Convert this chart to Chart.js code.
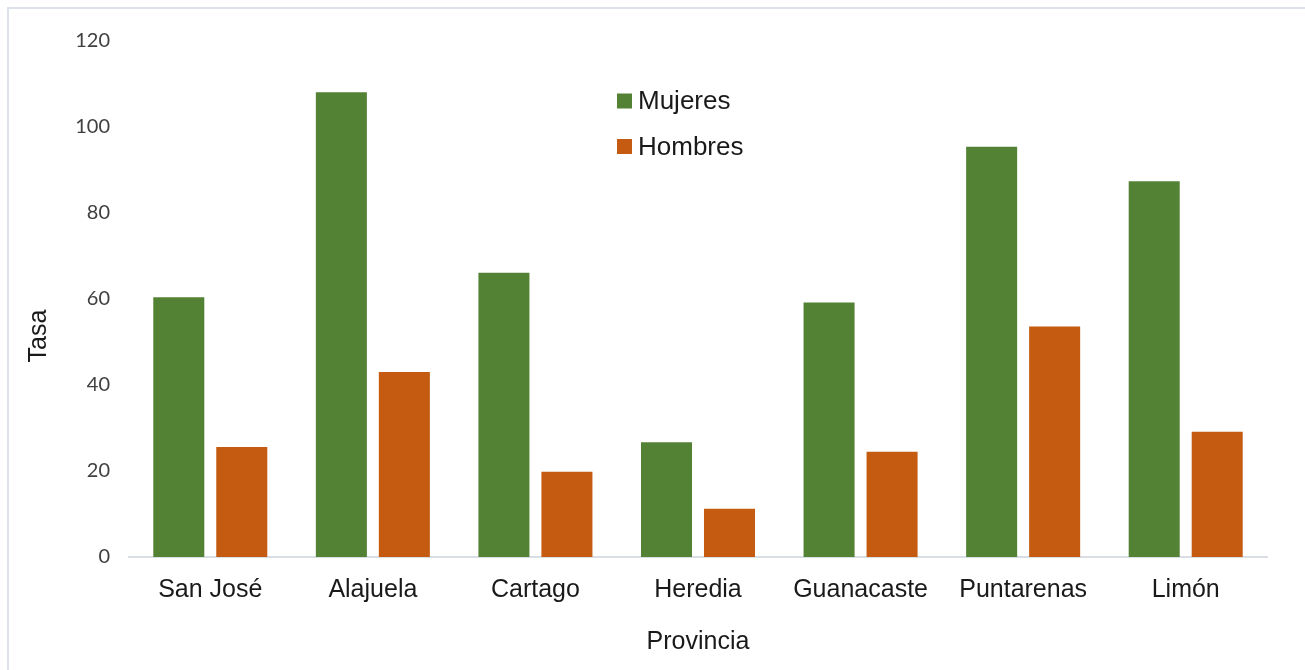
<!DOCTYPE html>
<html lang="es">
<head>
<meta charset="utf-8">
<title>Tasa por provincia</title>
<script src="https://cdn.jsdelivr.net/npm/chart.js@4.4.1/dist/chart.umd.min.js"></script>
<style>
  html, body { margin: 0; padding: 0; background: #ffffff; }
  #wrap { position: relative; width: 1305px; height: 670px; }
  #frame {
    position: absolute; left: 7px; top: 7px; right: 0; bottom: 0;
    border-top: 2px solid #dde2ea; border-left: 2px solid #dde2ea;
    pointer-events: none;
  }
  canvas { position: absolute; left: 0; top: 0; }
</style>
</head>
<body>
<div id="wrap">
  <canvas id="tasaChart" width="1305" height="670"></canvas>
  <div id="frame"></div>
</div>
<script>
const provincias = ["San José", "Alajuela", "Cartago", "Heredia", "Guanacaste", "Puntarenas", "Limón"];
const mujeres = [60.4, 108.1, 66.1, 26.7, 59.2, 95.4, 87.4];
const hombres = [25.6, 43.0, 19.8, 11.2, 24.5, 53.6, 29.1];
const yTicks = [0, 20, 40, 60, 80, 100, 120];

const GREEN = "#548235";
const ORANGE = "#c55a11";
const ARIAL = "'Liberation Sans', Arial, sans-serif";

// legend drawn as a vertical list inside the plot area
const sideLegend = {
  id: "sideLegend",
  afterDraw(chart) {
    const ctx = chart.ctx;
    ctx.save();
    ctx.font = `26px ${ARIAL}`;
    ctx.textBaseline = "middle";
    chart.data.datasets.forEach((ds, i) => {
      const y = 101 + i * 45.5;
      ctx.fillStyle = ds.backgroundColor;
      ctx.fillRect(617, y - 7.5, 15, 15);
      ctx.fillStyle = "#1a1a1a";
      ctx.fillText(ds.label, 638, y + 1);
    });
    ctx.restore();
  },
};

// y-axis title ("Tasa") rotated, left of the tick labels
const yTitle = {
  id: "yTitle",
  afterDraw(chart) {
    const ctx = chart.ctx;
    ctx.save();
    ctx.translate(39, 336);
    ctx.rotate(-Math.PI / 2);
    ctx.font = `25px ${ARIAL}`;
    ctx.fillStyle = "#1a1a1a";
    ctx.textAlign = "center";
    ctx.textBaseline = "middle";
    ctx.fillText("Tasa", 0, 0);
    ctx.restore();
  },
};

new Chart(document.getElementById("tasaChart"), {
  type: "bar",
  data: {
    labels: provincias,
    datasets: [
      { label: "Mujeres", data: mujeres, backgroundColor: GREEN, borderWidth: 0 },
      { label: "Hombres", data: hombres, backgroundColor: ORANGE, borderWidth: 0 },
    ],
  },
  options: {
    responsive: false,
    animation: false,
    devicePixelRatio: 1,
    layout: { padding: { top: 41, right: 38, left: 0, bottom: 0 } },
    datasets: { bar: { categoryPercentage: 0.775, barPercentage: 0.81 } },
    plugins: {
      legend: { display: false },
      tooltip: { enabled: false },
    },
    scales: {
      x: {
        grid: { display: false, drawTicks: false },
        border: { display: true, color: "#d9dde4", width: 2 },
        ticks: {
          color: "#1a1a1a",
          font: { family: ARIAL, size: 25 },
          padding: 18,
          maxRotation: 0,
        },
        title: {
          display: true,
          text: "Provincia",
          color: "#1a1a1a",
          font: { family: ARIAL, size: 25 },
          padding: { top: 0, bottom: 13 },
        },
        afterFit(scale) { scale.height = 113; },
      },
      y: {
        min: 0,
        max: 120,
        grid: { display: false, drawTicks: false },
        border: { display: false },
        afterBuildTicks(scale) { scale.ticks = yTicks.map((v) => ({ value: v })); },
        ticks: {
          color: "#404040",
          font: { family: "Lato, 'Open Sans', sans-serif", size: 20 },
          padding: 19,
        },
        afterFit(scale) { scale.width = 129; },
      },
    },
  },
  plugins: [sideLegend, yTitle],
});
</script>
</body>
</html>
